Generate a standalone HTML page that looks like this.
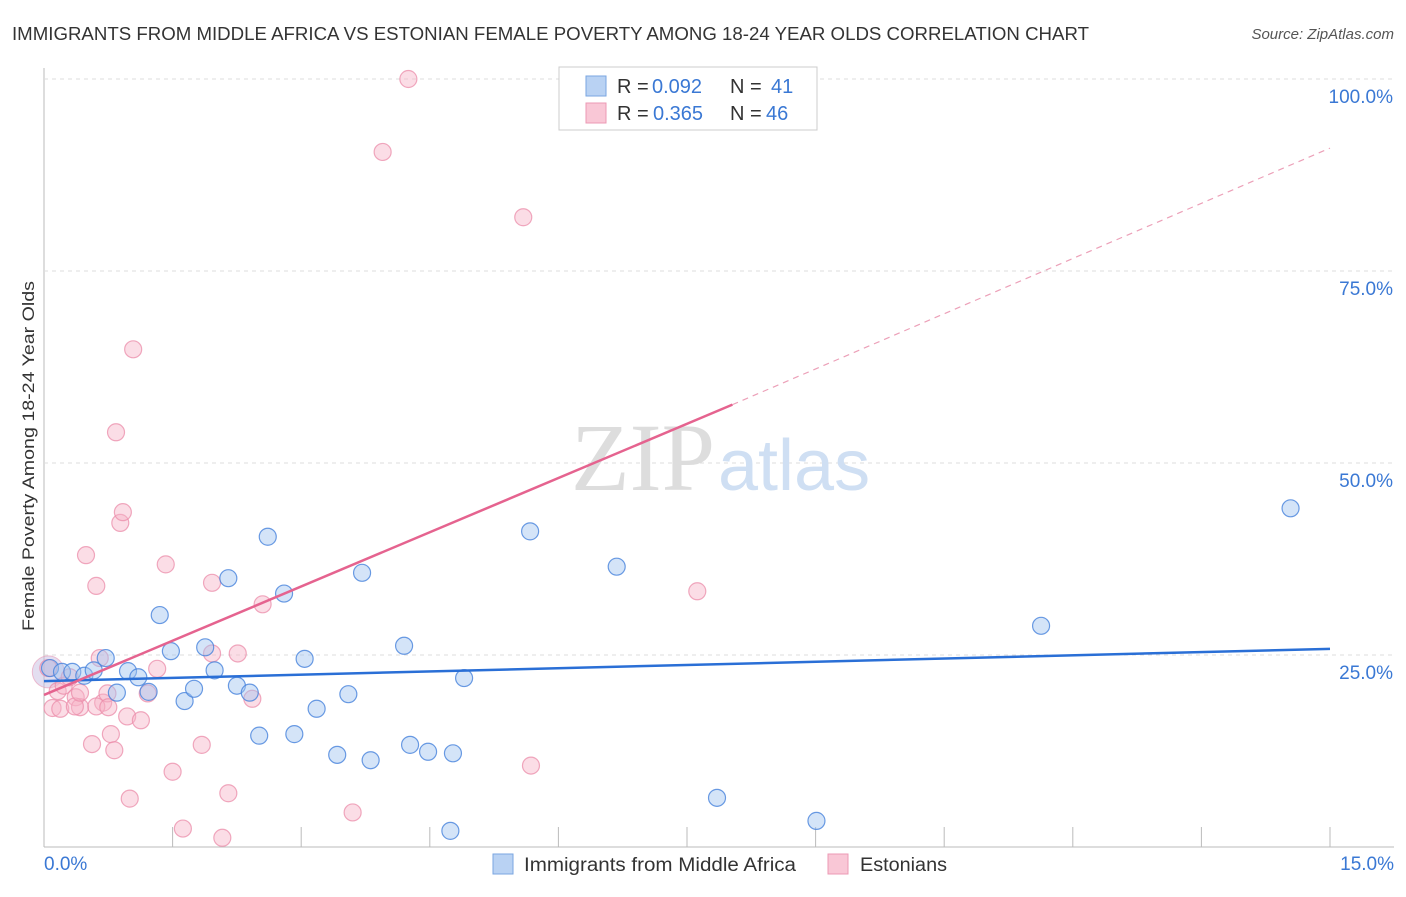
<!DOCTYPE html>
<html><head><meta charset="utf-8"><style>
body{margin:0;background:#fff;font-family:"Liberation Sans",sans-serif;}
</style></head><body>
<svg id="c" width="1406" height="892" xmlns="http://www.w3.org/2000/svg">
<text x="12" y="40" font-size="18" fill="#333" textLength="1077" lengthAdjust="spacingAndGlyphs">IMMIGRANTS FROM MIDDLE AFRICA VS ESTONIAN FEMALE POVERTY AMONG 18-24 YEAR OLDS CORRELATION CHART</text>
<text x="1394" y="39" font-size="15" fill="#555" text-anchor="end" font-style="italic">Source: ZipAtlas.com</text>
<text x="34" y="456" font-size="17" fill="#333" text-anchor="middle" textLength="350" lengthAdjust="spacingAndGlyphs" transform="rotate(-90 34 456)">Female Poverty Among 18-24 Year Olds</text>
<g id="grid"></g>
<text x="715" y="490" font-size="96" fill="#ddd" text-anchor="end" font-family="Liberation Serif">ZIP</text>
<text x="718" y="490" font-size="72" fill="#cfdff3">atlas</text>
<g id="pts"></g>
<g id="lines"></g>
<g>
<rect x="559" y="67" width="258" height="63" fill="#fff" stroke="#ccc"/>
<rect x="586" y="76" width="20" height="20" fill="#b9d2f3" stroke="#7aa6e0"/>
<rect x="586" y="103" width="20" height="20" fill="#f9c7d6" stroke="#ec9ab4"/>
<text y="93" font-size="20" fill="#333"><tspan x="617">R =</tspan><tspan x="652" fill="#3a78d4">0.092</tspan><tspan x="730">N =</tspan><tspan x="771" fill="#3a78d4">41</tspan></text>
<text y="120" font-size="20" fill="#333"><tspan x="617">R =</tspan><tspan x="653" fill="#3a78d4">0.365</tspan><tspan x="730">N =</tspan><tspan x="766" fill="#3a78d4">46</tspan></text>
</g>
<g>
<rect x="493" y="854" width="20" height="20" fill="#b9d2f3" stroke="#7aa6e0"/>
<text x="524" y="871" font-size="19" fill="#333" textLength="272" lengthAdjust="spacingAndGlyphs">Immigrants from Middle Africa</text>
<rect x="828" y="854" width="20" height="20" fill="#f9c7d6" stroke="#ec9ab4"/>
<text x="860" y="871" font-size="19" fill="#333" textLength="87" lengthAdjust="spacingAndGlyphs">Estonians</text>
</g>
</svg>
<script>
const xTicks=[0,1.5,3,4.5,6,7.5,9,10.5,12,13.5,15];
const yTicks=[25,50,75,100];
const blueX=[0.07,0.21,0.33,0.47,0.58,0.72,0.85,0.98,1.10,1.22,1.35,1.48,1.64,1.75,1.88,1.99,2.15,2.25,2.40,2.51,2.61,2.80,2.92,3.04,3.18,3.42,3.55,3.71,3.81,4.20,4.27,4.48,4.74,4.77,4.90,5.67,6.68,7.85,9.01,11.63,14.54];
const blueY=[23.3,22.8,22.8,22.3,23.0,24.6,20.1,22.9,22.1,20.2,30.2,25.5,19.0,20.6,26.0,23.0,35.0,21.0,20.1,14.5,40.4,33.0,14.7,24.5,18.0,12.0,19.9,35.7,11.3,26.2,13.3,12.4,2.1,12.2,22.0,41.1,36.5,6.4,3.4,28.8,44.1];
const pinkX=[0.05,0.10,0.16,0.23,0.30,0.37,0.42,0.49,0.56,0.61,0.65,0.69,0.74,0.78,0.82,0.84,0.89,0.92,0.97,1.00,1.04,1.13,1.21,1.32,1.42,1.50,1.62,1.84,1.96,1.96,2.08,2.15,2.26,2.43,2.55,3.60,3.95,4.25,5.59,5.68,7.62,0.19,0.36,0.42,0.61,0.75];
const pinkY=[23.3,18.1,20.3,21.0,22.1,19.5,18.2,38.0,13.4,34.0,24.6,18.8,20.0,14.7,12.6,54.0,42.2,43.6,17.0,6.3,64.8,16.5,20.0,23.2,36.8,9.8,2.4,13.3,34.4,25.2,1.2,7.0,25.2,19.3,31.6,4.5,90.5,100,82.0,10.6,33.3,18.0,18.3,20.1,18.3,18.2];
const X=v=>44+v/15*1286, Y=v=>847-v/100*768;
const ns="http://www.w3.org/2000/svg";
function mk(t,a,p){const e=document.createElementNS(ns,t);for(const k in a)e.setAttribute(k,a[k]);p.appendChild(e);return e;}
const g=document.getElementById('grid');
const ax=mk('line',{x1:44,y1:68,x2:44,y2:847,stroke:'#bbb'},g);


const bx=mk('line',{x1:44,y1:847,x2:1394,y2:847,stroke:'#bbb'},g);


yTicks.forEach(v=>{
 const l=mk('line',{x1:44,x2:1394,y1:Y(v),y2:Y(v),stroke:'#ddd','stroke-dasharray':'4,4'},g);
 
 
 const t=mk('text',{x:1393,y:Y(v)+24,'font-size':19,fill:'#3a78d4','text-anchor':'end'},g);
 t.textContent=v.toFixed(1)+'%';
 
 
});
xTicks.forEach(v=>{
 const l=mk('line',{x1:X(v),x2:X(v),y1:827,y2:847,stroke:'#bbb'},g);
 
 
});
[[0,44,'start'],[15,1394,'end']].forEach(([v,x,a])=>{
 const t=mk('text',{x:x,y:870,'font-size':19,fill:'#3a78d4','text-anchor':a},g);
 t.textContent=v.toFixed(1)+'%';
 
 
});
const p=document.getElementById('pts');
const big=mk('circle',{cx:X(0.05),cy:Y(22.8),r:16,fill:'rgba(200,190,225,0.5)',stroke:'rgba(230,150,180,0.6)'},p);


pinkX.forEach((v,i)=>{
 const c=mk('circle',{cx:X(v),cy:Y(pinkY[i]),r:8.5,fill:'rgba(246,180,200,0.45)',stroke:'rgba(235,140,170,0.75)','stroke-width':1.2},p);
 
 
});
blueX.forEach((v,i)=>{
 const c=mk('circle',{cx:X(v),cy:Y(blueY[i]),r:8.5,fill:'rgba(160,195,240,0.45)',stroke:'rgba(70,130,220,0.8)','stroke-width':1.2},p);
 
 
});
const L=document.getElementById('lines');
const b=mk('line',{x1:X(0),y1:Y(21.6),x2:X(15),y2:Y(25.8),stroke:'#2a6fd6','stroke-width':2.5},L);


const pk=mk('line',{x1:X(0),y1:Y(19.8),x2:X(8.03),y2:Y(57.6),stroke:'#e5638f','stroke-width':2.5},L);


const pd=mk('line',{x1:X(8.03),y1:Y(57.6),x2:X(15),y2:Y(91),stroke:'#eca0b8','stroke-width':1.2,'stroke-dasharray':'6,5'},L);


</script>
</body></html>
